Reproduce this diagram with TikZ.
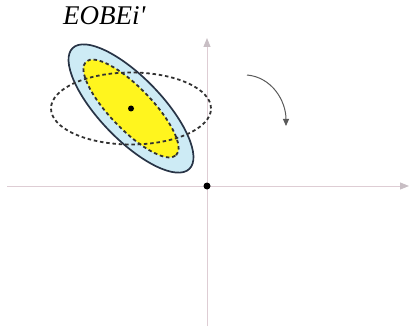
\documentclass[tikz,border=0pt]{standalone}
\usepackage{fontspec}
\newfontfamily\lblfont{Liberation Serif}
\usetikzlibrary{arrows.meta}
\definecolor{axisc}{RGB}{222,205,212}
\definecolor{axisarr}{RGB}{200,190,196}
\definecolor{lblue}{RGB}{205,235,245}
\definecolor{ylw}{RGB}{255,245,30}
\definecolor{navy}{RGB}{40,52,70}
\definecolor{dgray}{RGB}{50,50,50}
\definecolor{arrg}{RGB}{90,90,90}
\tikzset{
  axis/.style={draw=axisc, line width=0.9pt, -{Triangle[length=9pt,width=7pt,fill=axisarr,color=axisarr]}},
  dashell/.style={draw=dgray, line width=1.8pt, dash pattern=on 3.5pt off 2.8pt},
  dotc/.style={circle, fill=black, inner sep=0pt, minimum size=6pt},
  rotarrow/.style={draw=arrg, line width=1pt, -{Triangle[length=7pt,width=6pt]}},
}
\begin{document}
\begin{tikzpicture}[x=1pt,y=1pt]
\useasboundingbox (0,0) rectangle (409,327);
% axes
\coordinate (xs) at (7,141);
\coordinate (xe) at (409,141);
\coordinate (ys) at (207,1);
\coordinate (ye) at (207,289);
\draw[axis] (xs) -- (xe);
\draw[axis] (ys) -- (ye);
% ellipses
\coordinate (c) at (131,218.5);
\path[fill=lblue, draw=navy, line width=1.7pt] (c) ellipse[x radius=84, y radius=31, rotate=-46];
\path[fill=ylw] (c) ellipse[x radius=65, y radius=21, rotate=-46];
\path[dashell] (c) ellipse[x radius=80, y radius=36];
\path[dashell] (c) ellipse[x radius=65, y radius=21, rotate=-46];
\node[dotc] (cd) at (c) {};
\node[dotc, minimum size=7pt] (o) at (207,141) {};
% rotation arrow
\coordinate (as) at (247,252);
\coordinate (ae) at (286,201);
\draw[rotarrow] (as) to[out=-5,in=90] (ae);
% label
\node[font=\lblfont\itshape\fontsize{27}{27}\selectfont, anchor=base west, inner sep=0pt] (lbl) at (63,302) {EOBEi'};
\end{tikzpicture}
\end{document}
